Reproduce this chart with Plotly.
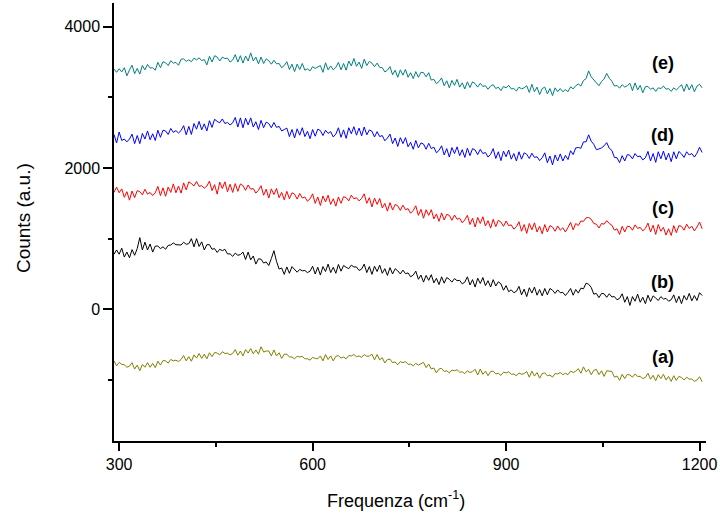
import plotly.graph_objects as go

freq = list(range(292, 1208, 4))

spec_e = [3400, 3355, 3405, 3360, 3420, 3305, 3390, 3455, 3335, 3410,
          3330, 3450, 3390, 3465, 3415, 3420, 3385, 3495, 3420, 3505,
          3490, 3450, 3520, 3485, 3495, 3455, 3540, 3545, 3510, 3530,
          3505, 3555, 3530, 3560, 3520, 3535, 3460, 3580, 3500, 3590,
          3570, 3515, 3570, 3550, 3555, 3500, 3530, 3605, 3500, 3590,
          3485, 3585, 3515, 3630, 3515, 3570, 3475, 3570, 3480, 3545,
          3520, 3470, 3525, 3475, 3480, 3420, 3450, 3505, 3395, 3470,
          3365, 3470, 3395, 3480, 3385, 3405, 3375, 3435, 3410, 3425,
          3450, 3355, 3490, 3390, 3445, 3390, 3425, 3495, 3390, 3480,
          3385, 3515, 3445, 3550, 3440, 3500, 3410, 3540, 3450, 3510,
          3485, 3435, 3485, 3425, 3420, 3360, 3385, 3435, 3320, 3385,
          3285, 3390, 3315, 3395, 3285, 3350, 3265, 3365, 3285, 3355,
          3350, 3290, 3350, 3245, 3255, 3195, 3225, 3275, 3165, 3235,
          3135, 3240, 3170, 3255, 3145, 3205, 3120, 3220, 3140, 3220,
          3195, 3145, 3200, 3155, 3165, 3115, 3160, 3180, 3125, 3145,
          3095, 3155, 3135, 3170, 3120, 3125, 3090, 3145, 3120, 3135,
          3165, 3070, 3185, 3080, 3145, 3040, 3125, 3145, 3050, 3125,
          3025, 3135, 3080, 3125, 3080, 3110, 3080, 3150, 3120, 3165,
          3190, 3160, 3240, 3265, 3375, 3290, 3250, 3215, 3165, 3225,
          3260, 3340, 3270, 3230, 3160, 3170, 3130, 3180, 3145, 3165,
          3200, 3095, 3205, 3105, 3170, 3065, 3150, 3155, 3115, 3135,
          3085, 3135, 3125, 3160, 3115, 3125, 3085, 3135, 3105, 3140,
          3180, 3085, 3190, 3105, 3180, 3080, 3160, 3185, 3135]

spec_d = [2475, 2355, 2510, 2390, 2410, 2370, 2410, 2480, 2345, 2460,
          2345, 2490, 2410, 2525, 2400, 2485, 2390, 2535, 2435, 2535,
          2525, 2475, 2560, 2505, 2530, 2495, 2530, 2600, 2470, 2590,
          2475, 2630, 2550, 2660, 2540, 2625, 2525, 2670, 2575, 2690,
          2660, 2640, 2695, 2630, 2645, 2610, 2640, 2715, 2580, 2710,
          2570, 2705, 2610, 2710, 2580, 2655, 2545, 2675, 2570, 2650,
          2630, 2570, 2645, 2575, 2590, 2525, 2545, 2565, 2445, 2545,
          2425, 2555, 2465, 2570, 2445, 2520, 2415, 2545, 2450, 2550,
          2530, 2460, 2535, 2490, 2515, 2440, 2480, 2570, 2435, 2540,
          2420, 2570, 2485, 2585, 2465, 2565, 2455, 2580, 2470, 2540,
          2520, 2440, 2515, 2445, 2460, 2385, 2425, 2480, 2345, 2425,
          2305, 2430, 2345, 2430, 2300, 2365, 2265, 2390, 2285, 2355,
          2340, 2265, 2350, 2275, 2295, 2215, 2250, 2315, 2185, 2275,
          2155, 2290, 2205, 2300, 2175, 2260, 2150, 2280, 2175, 2275,
          2255, 2190, 2265, 2205, 2220, 2155, 2195, 2275, 2135, 2230,
          2105, 2240, 2160, 2255, 2125, 2205, 2100, 2230, 2125, 2215,
          2195, 2135, 2210, 2150, 2160, 2105, 2145, 2215, 2075, 2170,
          2045, 2185, 2100, 2200, 2100, 2180, 2120, 2245, 2190, 2285,
          2290, 2280, 2370, 2370, 2470, 2380, 2335, 2260, 2270, 2285,
          2315, 2360, 2280, 2250, 2150, 2145, 2075, 2175, 2100, 2190,
          2180, 2130, 2205, 2160, 2170, 2115, 2145, 2235, 2100, 2205,
          2080, 2230, 2130, 2240, 2115, 2210, 2090, 2230, 2130, 2235,
          2200, 2150, 2230, 2185, 2205, 2155, 2210, 2295, 2220]

spec_c = [1655, 1730, 1650, 1705, 1585, 1665, 1545, 1675, 1580, 1680,
          1665, 1620, 1700, 1630, 1655, 1610, 1650, 1740, 1610, 1720,
          1600, 1730, 1655, 1775, 1650, 1745, 1645, 1790, 1690, 1805,
          1780, 1745, 1810, 1740, 1750, 1715, 1745, 1815, 1680, 1765,
          1630, 1800, 1710, 1805, 1665, 1770, 1655, 1780, 1670, 1775,
          1750, 1685, 1760, 1700, 1710, 1645, 1685, 1750, 1615, 1700,
          1575, 1705, 1625, 1710, 1580, 1655, 1550, 1670, 1565, 1650,
          1630, 1560, 1640, 1575, 1590, 1530, 1565, 1635, 1500, 1590,
          1470, 1605, 1520, 1615, 1485, 1565, 1460, 1590, 1500, 1595,
          1580, 1535, 1615, 1565, 1580, 1535, 1570, 1635, 1500, 1580,
          1450, 1575, 1485, 1570, 1435, 1500, 1390, 1510, 1405, 1485,
          1465, 1400, 1475, 1410, 1425, 1360, 1400, 1465, 1330, 1415,
          1290, 1410, 1330, 1410, 1280, 1350, 1245, 1365, 1265, 1345,
          1330, 1260, 1335, 1275, 1290, 1225, 1265, 1330, 1200, 1290,
          1165, 1300, 1215, 1310, 1180, 1255, 1150, 1275, 1170, 1260,
          1235, 1175, 1250, 1185, 1195, 1135, 1170, 1240, 1105, 1200,
          1075, 1215, 1125, 1225, 1095, 1175, 1070, 1200, 1095, 1185,
          1165, 1105, 1180, 1120, 1155, 1095, 1160, 1230, 1125, 1215,
          1185, 1250, 1245, 1295, 1300, 1275, 1215, 1205, 1150, 1215,
          1205, 1255, 1215, 1190, 1120, 1140, 1060, 1175, 1095, 1175,
          1170, 1120, 1195, 1145, 1160, 1110, 1145, 1220, 1095, 1190,
          1060, 1200, 1105, 1160, 1050, 1140, 1045, 1185, 1085, 1185,
          1175, 1120, 1205, 1145, 1175, 1110, 1165, 1235, 1140]

spec_b = [780, 840, 780, 865, 740, 810, 730, 845, 765, 860,
          1015, 840, 950, 840, 925, 810, 895, 895, 860, 885,
          850, 905, 910, 940, 915, 915, 910, 950, 920, 930,
          1000, 885, 1000, 890, 955, 840, 915, 915, 850, 860,
          805, 850, 830, 850, 785, 785, 750, 795, 765, 775,
          810, 705, 810, 700, 755, 640, 715, 710, 655, 670,
          620, 720, 830, 680, 570, 585, 495, 600, 510, 605,
          560, 525, 565, 545, 550, 520, 540, 610, 500, 595,
          485, 605, 535, 640, 520, 595, 510, 635, 540, 620,
          595, 575, 625, 600, 600, 550, 570, 640, 520, 605,
          495, 610, 535, 625, 510, 575, 480, 590, 500, 575,
          545, 500, 555, 505, 515, 460, 485, 540, 425, 485,
          385, 480, 410, 490, 375, 440, 350, 460, 370, 450,
          425, 385, 435, 405, 410, 360, 385, 460, 345, 420,
          315, 440, 365, 450, 335, 405, 315, 420, 330, 390,
          360, 270, 335, 250, 275, 235, 255, 325, 205, 285,
          180, 305, 230, 315, 200, 280, 190, 295, 205, 295,
          270, 225, 275, 235, 240, 195, 240, 295, 200, 280,
          230, 300, 290, 370, 355, 310, 215, 225, 165, 225,
          220, 170, 220, 175, 180, 135, 155, 220, 100, 180,
          55, 180, 115, 215, 100, 170, 80, 200, 110, 190,
          160, 125, 180, 145, 155, 115, 135, 205, 95, 185,
          80, 195, 130, 225, 120, 195, 125, 235, 195]

spec_a = [-730, -800, -750, -780, -785, -820, -805, -755, -845, -790,
          -870, -780, -820, -755, -820, -765, -825, -735, -790, -725,
          -730, -760, -710, -730, -720, -740, -710, -655, -730, -670,
          -735, -645, -690, -625, -695, -635, -700, -615, -670, -610,
          -620, -645, -600, -625, -620, -645, -625, -570, -650, -590,
          -660, -570, -620, -555, -630, -575, -635, -530, -605, -590,
          -590, -660, -575, -660, -615, -695, -635, -635, -675, -675,
          -700, -665, -675, -665, -700, -700, -720, -680, -695, -700,
          -660, -730, -640, -710, -660, -730, -665, -655, -690, -675,
          -700, -655, -660, -640, -670, -660, -680, -640, -665, -660,
          -635, -715, -640, -715, -685, -760, -710, -705, -755, -745,
          -785, -740, -755, -740, -780, -775, -800, -765, -790, -775,
          -750, -825, -775, -845, -830, -900, -845, -835, -880, -870,
          -900, -860, -870, -855, -890, -885, -910, -870, -895, -880,
          -850, -930, -845, -920, -875, -940, -880, -875, -915, -905,
          -935, -890, -900, -885, -920, -915, -940, -900, -920, -910,
          -880, -960, -875, -945, -895, -975, -910, -900, -940, -930,
          -960, -910, -915, -895, -925, -905, -925, -875, -895, -875,
          -840, -905, -815, -885, -850, -925, -865, -850, -925, -870,
          -950, -870, -875, -880, -960, -945, -1005, -920, -980, -920,
          -930, -960, -915, -950, -950, -980, -965, -905, -990, -935,
          -1010, -925, -980, -920, -1000, -950, -1020, -940, -1005, -950,
          -965, -1000, -960, -990, -985, -1020, -1000, -955, -1025]

series = [spec_a, spec_b, spec_c, spec_d, spec_e]
colors = ["#808000", "#000000", "#FF0000", "#0000FF", "#008080"]
label_text = ["(a)", "(b)", "(c)", "(d)", "(e)"]
label_x = [1143, 1143, 1143, 1143, 1143]
label_y = [-672, 390, 1440, 2470, 3490]

x_title = "Frequenza (cm<sup>-1</sup>)"
y_title = "Counts (a.u.)"

fig = go.Figure()
for ys, c, name in zip(series, colors, label_text):
    n = min(len(ys), len(freq))
    fig.add_trace(go.Scatter(x=freq[:n], y=ys[:n], mode="lines", name=name,
                             line=dict(color=c, width=1.0), showlegend=False))

for t, lx, ly in zip(label_text, label_x, label_y):
    fig.add_annotation(x=lx, y=ly, text="<b>%s</b>" % t, showarrow=False,
                       font=dict(family="Liberation Sans, Arial", size=18, color="black"),
                       xanchor="center", yanchor="middle")

fig.add_annotation(xref="paper", yref="paper", x=0.476, y=-0.1347, text=x_title,
                   showarrow=False, xanchor="center", yanchor="middle",
                   font=dict(family="Liberation Sans, Arial", size=18, color="black"))
fig.add_annotation(xref="paper", yref="paper", x=-0.1537, y=0.509, text=y_title,
                   showarrow=False, xanchor="center", yanchor="middle", textangle=-90,
                   font=dict(family="Liberation Sans, Arial", size=19, color="black"))

axis_font = dict(family="Liberation Sans, Arial", size=16, color="black")
fig.update_layout(
    width=720, height=519,
    margin=dict(l=114, r=14, t=3, b=78),
    paper_bgcolor="white", plot_bgcolor="white",
    font=dict(family="Liberation Sans, Arial", color="black"),
    xaxis=dict(range=[292, 1210], tick0=0, dtick=300, showgrid=False, zeroline=False,
               showline=True, linecolor="black", linewidth=1.5,
               ticks="outside", ticklen=8, tickwidth=1.5, tickcolor="black",
               minor=dict(dtick=150, ticks="outside", ticklen=4, tickwidth=1.5, tickcolor="black"),
               tickfont=axis_font),
    yaxis=dict(range=[-1864, 4336], tick0=0, dtick=2000, showgrid=False, zeroline=False,
               showline=True, linecolor="black", linewidth=1.5,
               ticks="outside", ticklen=9, tickwidth=1.5, tickcolor="black",
               minor=dict(dtick=1000, ticks="outside", ticklen=4, tickwidth=1.5, tickcolor="black"),
               tickfont=axis_font),
)

fig.write_html("out.html")
